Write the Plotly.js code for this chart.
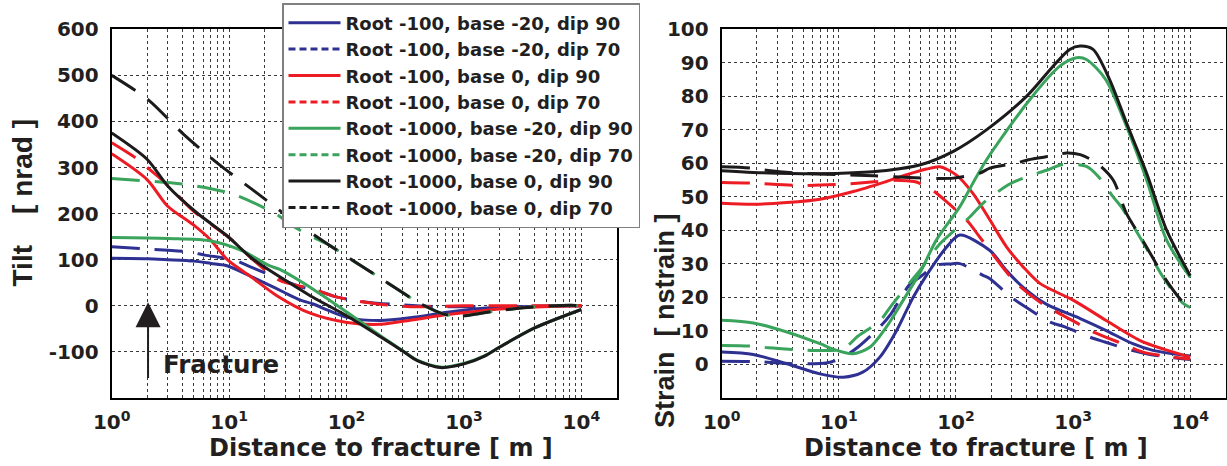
<!DOCTYPE html>
<html><head><meta charset="utf-8">
<script src="https://cdn.plot.ly/plotly-3.0.1.min.js"></script>
<style>html,body{margin:0;padding:0;background:#fff;}#chart{width:1227px;height:466px;}</style>
</head><body><div id="chart"></div>
<script>
// ---------- series names ----------
const seriesNames = [
  'Root -100, base -20, dip 90',
  'Root -100, base -20, dip 70',
  'Root -100, base 0, dip 90',
  'Root -100, base 0, dip 70',
  'Root -1000, base -20, dip 90',
  'Root -1000, base -20, dip 70',
  'Root -1000, base 0, dip 90',
  'Root -1000, base 0, dip 70'
];

// ---------- tick labels ----------
const xTickVals = [1, 10, 100, 1000, 10000];
const xTickText = ['10<sup>0</sup>', '10<sup>1</sup>', '10<sup>2</sup>', '10<sup>3</sup>', '10<sup>4</sup>'];
const tiltTickVals = [-100, 0, 100, 200, 300, 400, 500, 600];
const tiltTickText = ['-100', '0', '100', '200', '300', '400', '500', '600'];
const strainTickVals = [0, 10, 20, 30, 40, 50, 60, 70, 80, 90, 100];
const strainTickText = ['0', '10', '20', '30', '40', '50', '60', '70', '80', '90', '100'];

// ---------- Tilt [nrad] (left panel) ----------
const tiltX_r100b20d90 = [1, 2, 3, 5, 7, 9.6, 15, 20, 29, 40, 52, 70, 101, 194, 372, 720, 1380, 3000, 10000];
const tiltY_r100b20d90 = [103, 102, 100, 97, 92, 87, 65, 50, 30, 13, 4, -10, -25, -32, -25, -14, -6, -2, 0];

const tiltX_r100b20d70 = [1, 1.8, 4.5, 6.2, 10.9, 15, 25.5, 40, 63, 80, 150, 300, 600, 1000, 3000, 10000];
const tiltY_r100b20d70 = [128, 124, 117, 110, 100, 85, 61, 42, 29, 20, 8, 2, -2, -2, -1, 0];

const tiltX_r100b0d90 = [1, 2, 3, 5, 6.9, 9.6, 15, 25.5, 49, 101, 194, 372, 720, 1380, 3000, 10000];
const tiltY_r100b0d90 = [330, 274, 216, 175, 144, 101, 65, 22, -16, -36, -40, -30, -19, -11, -4, 0];

const tiltX_r100b0d70 = [1, 1.6, 2.1, 3, 5, 10, 16, 27, 45, 63, 80, 150, 200, 350, 600, 1000, 3000, 10000];
const tiltY_r100b0d70 = [354, 321, 296, 262, 205, 148, 100, 55, 40, 29, 20, 7, 3, -2, -1, 0, 0, 0];

const tiltX_r1000b20d90 = [1, 3, 6.9, 13, 22, 27, 52, 101, 194, 300, 400, 630, 1000, 1500, 2000, 4000, 10000];
const tiltY_r1000b20d90 = [148, 146, 141, 119, 87, 79, 36, -14, -65, -97, -118, -133, -125, -108, -90, -48, -8];

const tiltX_r1000b20d70 = [1, 4.4, 10.9, 25.5, 33, 49, 73, 115, 149, 316, 410, 675, 930, 1580, 3200, 8000, 10000];
const tiltY_r1000b20d70 = [276, 263, 242, 198, 177, 152, 130, 97, 79, 25, 7, -18, -22, -14, -4, 1, 0];

const tiltX_r1000b0d90 = [1, 2, 3, 5.3, 9.6, 16, 29, 49, 101, 194, 300, 400, 630, 1000, 1500, 2000, 4000, 10000];
const tiltY_r1000b0d90 = [375, 318, 260, 202, 152, 101, 58, 22, -22, -67, -98, -119, -134, -126, -109, -90, -48, -8];

const tiltX_r1000b0d70 = [1, 2.05, 4.1, 8.1, 17.2, 35.5, 73, 149, 316, 410, 675, 930, 1580, 3200, 8000, 10000];
const tiltY_r1000b0d70 = [500, 447, 372, 308, 245, 184, 130, 79, 25, 7, -18, -22, -14, -4, 1, 0];

// ---------- Strain [nstrain] (right panel) ----------
const strainX_r100b20d90 = [1, 1.86, 3.6, 6.9, 10.9, 16, 22.4, 31, 43, 56, 83, 108, 195, 270, 375, 590, 1150, 1900, 3230, 4800, 10000];
const strainY_r100b20d90 = [3.7, 3.0, 0.2, -2.8, -3.8, -2.3, 2.2, 10, 20, 26.6, 35, 38.6, 34, 28, 23, 18, 13.7, 10.2, 6.2, 4.2, 2.5];

const strainX_r100b20d70 = [1, 1.8, 4.5, 8, 10.9, 14.6, 22.4, 28, 40.5, 49, 68, 89, 108, 170, 195, 297, 400, 630, 850, 1380, 1870, 3170, 4230, 7100, 10000];
const strainY_r100b20d70 = [1.0, 0.9, 0.2, 0.5, 2.2, 5.2, 11.2, 15.2, 24, 26, 29.6, 30, 30.1, 26.6, 25.6, 20, 17, 12.7, 11.2, 8.2, 6.7, 4.2, 3.2, 2.0, 1.5];

const strainX_r100b0d90 = [1, 1.86, 3.6, 6.9, 13.3, 25.5, 38, 56, 73, 101, 139, 195, 270, 375, 520, 1000, 1900, 3700, 6000, 10000];
const strainY_r100b0d90 = [48.1, 47.8, 48.3, 49.3, 51.6, 54.6, 56.6, 58.3, 59, 56.5, 51.1, 43.1, 35.1, 29.1, 24.2, 19.2, 13.2, 7.2, 4.5, 2.2];

const strainX_r100b0d70 = [1, 1.8, 4.5, 10.9, 20, 30, 45, 60, 83, 127, 155, 270, 330, 520, 675, 1100, 1380, 2860, 3950, 7100, 10000];
const strainY_r100b0d70 = [54.3, 54.1, 53.4, 53.8, 54.5, 55, 54.5, 52.5, 48.6, 42.6, 38.6, 27.6, 24.1, 18.6, 16.2, 12.2, 10.2, 5.7, 3.7, 2.2, 1.6];

const strainX_r1000b20d90 = [1, 1.86, 3.6, 6.9, 9.6, 13.3, 18.5, 25.5, 35.5, 49, 68, 108, 139, 182, 426, 770, 1070, 1300, 1900, 2860, 4250, 6300, 10000];
const strainY_r1000b20d90 = [13.2, 12.4, 9.7, 6.2, 4.2, 3.2, 5.2, 11.2, 19.2, 27.2, 37.1, 47.1, 54, 61, 79, 89, 91.5, 91, 85, 71, 55, 37, 26];

const strainX_r1000b20d70 = [1, 1.8, 2.5, 4.5, 6.2, 10.9, 14.6, 22.4, 28, 40.5, 49, 73, 131, 170, 280, 375, 610, 800, 1300, 1640, 2190, 2570, 3700, 4250, 6000, 8700, 10000];
const strainY_r1000b20d70 = [5.7, 5.5, 5.0, 4.4, 4.2, 4.7, 8.5, 13, 17.5, 24.5, 28, 36, 44, 48.1, 53.6, 55.6, 58.1, 59.6, 59.1, 56.1, 50.1, 47.1, 38.1, 34.5, 25.5, 18.2, 17];

const strainX_r1000b0d90 = [1, 1.86, 6.9, 13.3, 25.5, 49, 95, 182, 400, 675, 935, 1150, 1480, 2050, 2860, 4250, 6300, 10000];
const strainY_r1000b0d90 = [57.8, 57.3, 56.9, 57.2, 57.9, 59.5, 63.6, 70, 80, 89, 94, 95, 94, 85, 72, 57, 40, 26.5];

const strainX_r1000b0d70 = [1, 1.8, 2.5, 4.5, 10.9, 20, 40, 68, 95, 160, 195, 330, 415, 675, 880, 1150, 1590, 2190, 2860, 3700, 4250, 6000, 8700, 10000];
const strainY_r1000b0d70 = [59, 58.6, 57.9, 57.1, 56.6, 56.3, 55.8, 55.5, 55.6, 57.1, 58.6, 60.1, 61.1, 62.3, 63.1, 62.6, 60.1, 55.1, 45, 38.5, 35, 26, 18.5, 17];

// ---------- styling ----------
const BLUE = '#2e3192', RED = '#ed1c24', GREEN = '#3aa35c', BLACK = '#1c1a1b';
const FONT = 'DejaVu Sans, Verdana, sans-serif';
const FONT_V = 'Liberation Sans, Arial, Helvetica, sans-serif';
const TXT = '#231f20';
const colors = [BLUE, BLUE, RED, RED, GREEN, GREEN, BLACK, BLACK];
const dashed = [false, true, false, true, false, true, false, true];
const PLOT_DASH = '28px,15px';
const LEG_DASH = '7px,4px';

const tiltX = [tiltX_r100b20d90, tiltX_r100b20d70, tiltX_r100b0d90, tiltX_r100b0d70, tiltX_r1000b20d90, tiltX_r1000b20d70, tiltX_r1000b0d90, tiltX_r1000b0d70];
const tiltY = [tiltY_r100b20d90, tiltY_r100b20d70, tiltY_r100b0d90, tiltY_r100b0d70, tiltY_r1000b20d90, tiltY_r1000b20d70, tiltY_r1000b0d90, tiltY_r1000b0d70];
const strainX = [strainX_r100b20d90, strainX_r100b20d70, strainX_r100b0d90, strainX_r100b0d70, strainX_r1000b20d90, strainX_r1000b20d70, strainX_r1000b0d90, strainX_r1000b0d70];
const strainY = [strainY_r100b20d90, strainY_r100b20d70, strainY_r100b0d90, strainY_r100b0d70, strainY_r1000b20d90, strainY_r1000b20d70, strainY_r1000b0d90, strainY_r1000b0d70];

const traces = [];
for (let i = 0; i < seriesNames.length; i++) {
  traces.push({
    x: tiltX[i], y: tiltY[i], xaxis: 'x', yaxis: 'y', type: 'scatter', mode: 'lines',
    name: seriesNames[i], showlegend: false, hoverinfo: 'skip',
    line: {color: colors[i], width: 3, dash: dashed[i] ? PLOT_DASH : 'solid', shape: 'spline', smoothing: 0.8}
  });
}
for (let i = 0; i < seriesNames.length; i++) {
  traces.push({
    x: strainX[i], y: strainY[i], xaxis: 'x2', yaxis: 'y2', type: 'scatter', mode: 'lines',
    name: seriesNames[i], showlegend: false, hoverinfo: 'skip',
    line: {color: colors[i], width: 3, dash: dashed[i] ? PLOT_DASH : 'solid', shape: 'spline', smoothing: 0.8}
  });
}
// legend entries (line-style samples only)
for (let i = 0; i < seriesNames.length; i++) {
  traces.push({
    x: [null], y: [null], xaxis: 'x', yaxis: 'y', type: 'scatter', mode: 'lines',
    name: seriesNames[i], showlegend: true, hoverinfo: 'skip',
    line: {color: colors[i], width: 3, dash: dashed[i] ? LEG_DASH : 'solid'}
  });
}

const minorVals = [];
for (const d of xTickVals) for (let k = 2; k <= 9; k++) if (d * k <= 20000) minorVals.push(d * k);

const GRID = '#3a3a3a';
function xAxis(domain, anchor) {
  return {
    type: 'log', domain: domain, anchor: anchor, range: [0, Math.log10(20000)],
    tickmode: 'array', tickvals: xTickVals, ticktext: xTickText, ticks: '',
    showline: true, mirror: true, linecolor: '#000', linewidth: 2,
    showgrid: true, gridcolor: GRID, griddash: 'dot', gridwidth: 1,
    minor: {tickmode: 'array', tickvals: minorVals, showgrid: true, gridcolor: GRID, griddash: 'dot', gridwidth: 1, ticks: ''},
    tickfont: {family: FONT, size: 20, color: TXT, weight: 'bold'},
    ticklabelstandoff: 5, zeroline: false, fixedrange: true
  };
}
function yAxis(domain, anchor, range, vals, text) {
  return {
    domain: domain, anchor: anchor, range: range,
    tickmode: 'array', tickvals: vals, ticktext: text, ticks: '',
    showline: true, mirror: true, linecolor: '#000', linewidth: 2,
    showgrid: true, gridcolor: GRID, griddash: 'dot', gridwidth: 1,
    tickfont: {family: FONT, size: 20, color: TXT, weight: 'bold'},
    ticklabelstandoff: 7, zeroline: false, fixedrange: true
  };
}

const W = 1227, H = 466;
const yDom = [1 - 398 / H, 1 - 29.3 / H];
const layout = {
  width: W, height: H,
  margin: {l: 0, r: 0, t: 0, b: 0, pad: 0},
  paper_bgcolor: '#fff', plot_bgcolor: '#fff',
  font: {family: FONT, color: TXT, weight: 'bold'},
  xaxis: xAxis([111.7 / W, 616.7 / W], 'y'),
  yaxis: yAxis(yDom, 'x', [-200, 600], tiltTickVals, tiltTickText),
  xaxis2: xAxis([721.7 / W, 1225.5 / W], 'y2'),
  yaxis2: yAxis(yDom, 'x2', [-10, 100], strainTickVals, strainTickText),
  showlegend: true,
  legend: {
    x: 282 / W, y: 1 - 3 / H, xanchor: 'left', yanchor: 'top',
    bgcolor: '#fff', bordercolor: '#808080', borderwidth: 1.5,
    font: {family: FONT, size: 18, color: TXT, weight: 'bold'},
    itemwidth: 52, tracegroupgap: 0, itemclick: false, itemdoubleclick: false
  },
  annotations: [
    {xref: 'paper', yref: 'paper', x: 22 / W, y: 1 - 203.5 / H, xanchor: 'center', yanchor: 'middle',
     text: 'Tilt\u00A0\u00A0\u00A0\u00A0[ nrad ]', textangle: -90, showarrow: false,
     font: {family: FONT_V, size: 28, color: TXT, weight: 'bold'}},
    {xref: 'paper', yref: 'paper', x: 665 / W, y: 1 - 321 / H, xanchor: 'center', yanchor: 'middle',
     text: 'Strain\u00A0\u00A0[ nstrain ]', textangle: -90, showarrow: false,
     font: {family: FONT_V, size: 27, color: TXT, weight: 'bold'}},
    {xref: 'paper', yref: 'paper', x: 381 / W, y: 1 - 448 / H, xanchor: 'center', yanchor: 'middle',
     text: 'Distance to fracture [ m ]', showarrow: false,
     font: {family: FONT, size: 24, color: TXT, weight: 'bold'}},
    {xref: 'paper', yref: 'paper', x: 976 / W, y: 1 - 448 / H, xanchor: 'center', yanchor: 'middle',
     text: 'Distance to fracture [ m ]', showarrow: false,
     font: {family: FONT, size: 24, color: TXT, weight: 'bold'}},
    {xref: 'paper', yref: 'paper', x: 161 / W, y: 1 - 364 / H, xanchor: 'left', yanchor: 'middle',
     text: 'Fracture', showarrow: false,
     font: {family: FONT, size: 24.5, color: TXT, weight: 'bold'}},
    {xref: 'x', yref: 'y', x: Math.log10(2.04), y: 8, axref: 'x', ayref: 'y', ax: Math.log10(2.04), ay: -160,
     text: '', showarrow: true, arrowhead: 2, arrowsize: 2.5, arrowwidth: 2, arrowcolor: TXT}
  ]
};

Plotly.newPlot('chart', traces, layout, {staticPlot: true, displayModeBar: false});
</script></body></html>
